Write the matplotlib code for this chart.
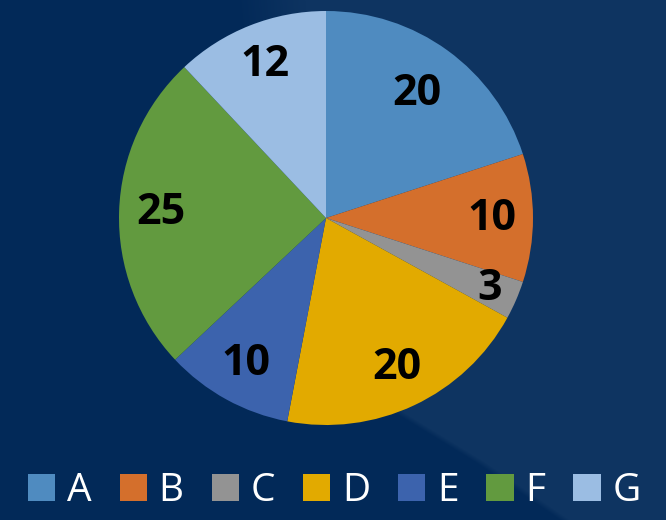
import matplotlib
matplotlib.use("Agg")
import matplotlib.pyplot as plt
from matplotlib.patches import Patch
import numpy as np

categories = ["A", "B", "C", "D", "E", "F", "G"]
values = [20, 10, 3, 20, 10, 25, 12]
colors = ["#4f8bc0", "#d46f2c", "#939393", "#e2aa00", "#3c63ad", "#629a3f", "#9bbde3"]

W, H = 666, 520
fig = plt.figure(figsize=(W / 100, H / 100), dpi=100, facecolor="#022958")

# background with a soft lighter area on the right
bg = fig.add_axes([0, 0, 1, 1])
bg.set_axis_off()
yy, xx = np.mgrid[0:H, 0:W].astype(float)
by = np.array([0, 330, 413, 462, 520], float)
bx = np.array([270, 300, 400, 480, 565], float)
xb = np.interp(yy, by, bx)
soft = np.where(yy < 300, 70.0, 10.0)
f = np.clip((xx - xb) / soft + 0.5, 0, 1)
dark = np.array([2, 41, 88]) / 255
light = np.array([14, 52, 97]) / 255
img = dark[None, None, :] * (1 - f[..., None]) + light[None, None, :] * f[..., None]
bg.imshow(img, extent=[0, W, H, 0], aspect="auto", interpolation="bilinear")
bg.set_xlim(0, W)
bg.set_ylim(H, 0)

cx, cy, r = 326, 218, 207
ax = fig.add_axes([(cx - r) / W, (H - cy - r) / H, 2 * r / W, 2 * r / H])
ax.set_axis_off()
wedges, texts, autotexts = ax.pie(
    values, colors=colors, startangle=90, counterclock=False,
    autopct=lambda p: f"{round(p * sum(values) / 100):d}", pctdistance=0.8,
    wedgeprops=dict(linewidth=0),
    textprops=dict(color="black", fontsize=31, fontweight="bold", family=["Open Sans", "DejaVu Sans"]),
)
adj = {0: 0.745, 2: 0.86}
for i, t in enumerate(autotexts):
    if i in adj:
        x, y = t.get_position()
        d = np.hypot(x, y)
        t.set_position((x / d * adj[i], y / d * adj[i]))
ax.set_xlim(-1, 1)
ax.set_ylim(-1, 1)
ax.set_aspect("equal")

handles = [Patch(facecolor=c, edgecolor="none") for c in colors]
leg = fig.legend(handles, categories, loc="center", bbox_to_anchor=(0.502, (H - 491) / H),
                 ncol=7, frameon=False, handlelength=0.7, handleheight=0.7,
                 handletextpad=0.3, columnspacing=0.72, borderaxespad=0,
                 prop=dict(family=["Open Sans", "DejaVu Sans"], size=28))
for t in leg.get_texts():
    t.set_color("white")

fig.savefig("out.png", dpi=100, facecolor=fig.get_facecolor())
